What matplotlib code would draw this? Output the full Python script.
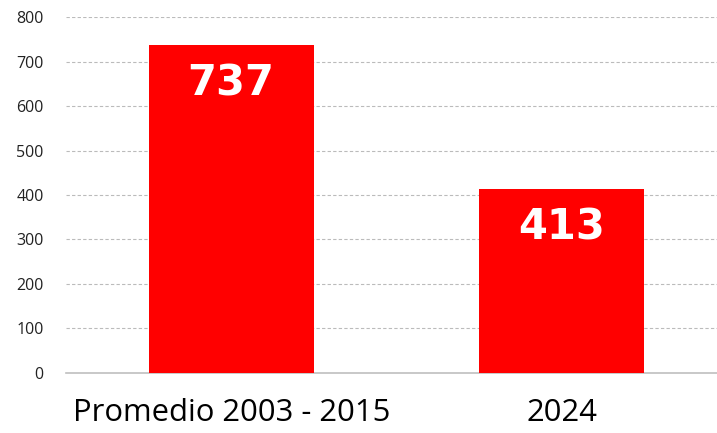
import matplotlib.pyplot as plt

categorias = ['Promedio 2003 - 2015', '2024']
valores = [737, 413]

fig, ax = plt.subplots(figsize=(7.17, 4.33), dpi=100)
fig.subplots_adjust(left=0.092, right=1.0, bottom=0.1386, top=0.9607)

x = range(len(categorias))
ax.bar(x, valores, width=0.5, color='#ff0000', zorder=3)

for i, v in zip(x, valores):
    ax.text(i, v - 86, str(v), ha='center', va='center', color='white',
            fontsize=30, fontweight='heavy', family='DejaVu Sans', zorder=4)

ax.set_xlim(-0.5, 1.47)
ax.set_ylim(0, 800)
ax.set_yticks(range(0, 801, 100))
ax.set_xticks(list(x))
ax.set_xticklabels(categorias, fontsize=22.3, family='Open Sans')
ax.tick_params(axis='y', length=0, pad=16, labelsize=11.5, labelcolor='#222222')
ax.tick_params(axis='x', length=0, pad=18)
for lbl in ax.get_yticklabels():
    lbl.set_family('Open Sans')

ax.yaxis.grid(True, linestyle=(0, (3, 2)), color='#bbbbbb', linewidth=0.8, zorder=0)
for s in ['top', 'right', 'left']:
    ax.spines[s].set_visible(False)
ax.spines['bottom'].set_color('#bfbfbf')
ax.spines['bottom'].set_linewidth(1.2)

plt.savefig('out.png')
plt.close()
